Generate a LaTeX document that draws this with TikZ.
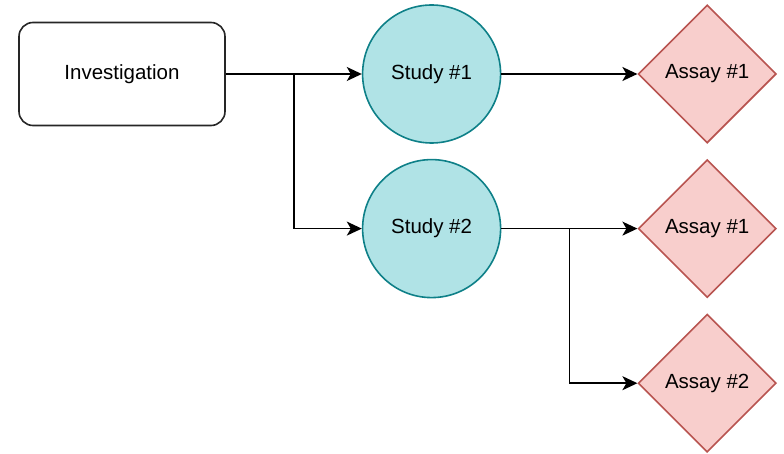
\documentclass[tikz,border=0pt]{standalone}
\usepackage{fontspec}
\setmainfont{Liberation Sans}
\usetikzlibrary{positioning,calc,arrows.meta,shapes.geometric}
\definecolor{studyfill}{HTML}{B0E3E6}
\definecolor{studyline}{HTML}{0E8088}
\definecolor{assayfill}{HTML}{F8CECC}
\definecolor{assayline}{HTML}{B85450}
\tikzset{
  inv/.style  ={rectangle, rounded corners=14pt, draw=black!85, fill=white, line width=1.6pt, minimum width=206pt, minimum height=103pt, inner sep=0pt},
  study/.style={circle, draw=studyline, fill=studyfill, line width=1.6pt, minimum size=138pt, inner sep=0pt},
  assay/.style={diamond, aspect=1, draw=assayline, fill=assayfill, line width=1.6pt, minimum width=138pt, minimum height=138pt, inner sep=0pt},
  e/.style    ={-{Stealth[length=15pt, width=14pt, inset=4pt]}, draw=black, line width=1.6pt},
}

\begin{document}
\begin{tikzpicture}[x=1pt, y=-1pt, node distance=15pt and 136pt, font=\fontsize{20.5}{24}\selectfont]
\useasboundingbox (0,0) rectangle (784,454);
\node[inv] (inv) at (122,74) {Investigation};
\node[study, right=of inv] (s1) {Study \#1};
\node[study, below=of s1] (s2) {Study \#2};
\node[assay, right=of s1] (a11) {Assay \#1};
\node[assay, right=of s2] (a21) {Assay \#1};
\node[assay, below=of a21] (a22) {Assay \#2};
\coordinate (j1) at ($(inv.east)!0.5!(s1.west)$);
\coordinate (j2) at ($(s2.east)!0.5!(a21.west)$);
\draw[e] (inv) -- (s1);
\draw[e] (j1) |- (s2);
\draw[e] (s1) -- (a11);
\draw[e] (s2) -- (a21);
\draw[e] (j2) |- (a22);
\end{tikzpicture}
\end{document}
